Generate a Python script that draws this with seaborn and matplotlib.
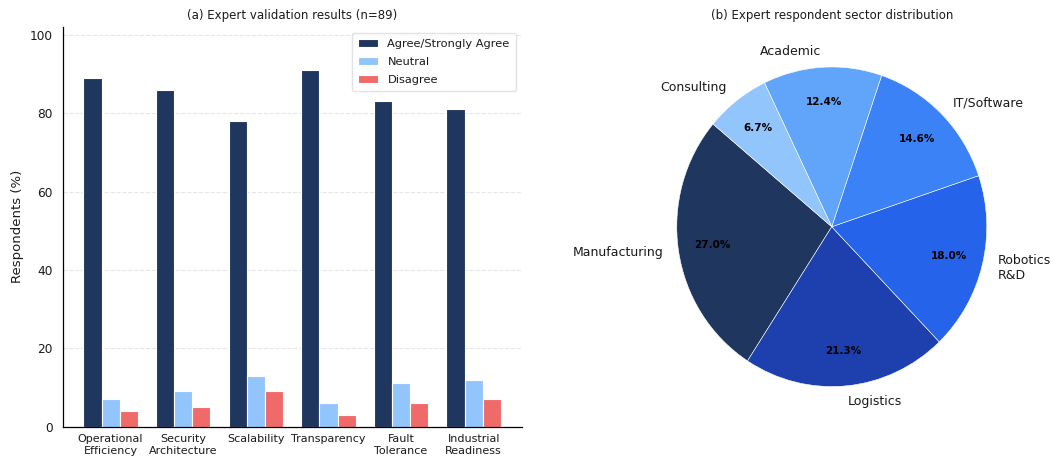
import numpy as np
import pandas as pd
import matplotlib
matplotlib.use("Agg")
import matplotlib.pyplot as plt
import seaborn as sns

# Expert validation survey (n=89)
criteria = ["Operational\nEfficiency", "Security\nArchitecture", "Scalability",
            "Transparency", "Fault\nTolerance", "Industrial\nReadiness"]
agree = [89, 86, 78, 91, 83, 81]
neutral = [7, 9, 13, 6, 11, 12]
disagree = [4, 5, 9, 3, 6, 7]
responses = ["Agree/Strongly Agree", "Neutral", "Disagree"]
response_colors = ["#1f365f", "#93c5fd", "#f16a6a"]

# Sector distribution of respondents
sectors = ["Manufacturing", "Logistics", "Robotics\nR&D", "IT/Software", "Academic", "Consulting"]
sector_counts = [24, 19, 16, 13, 11, 6]
sector_colors = ["#1f365f", "#1e40af", "#2563eb", "#3b82f6", "#60a5fa", "#93c5fd"]

sns.set_theme(style="white")
plt.rcParams["font.family"] = ["DejaVu Sans"]
plt.rcParams["text.color"] = "#1a1a1a"
plt.rcParams["axes.labelcolor"] = "#1a1a1a"
plt.rcParams["xtick.color"] = "#1a1a1a"
plt.rcParams["ytick.color"] = "#1a1a1a"

fig = plt.figure(figsize=(10.53, 4.61), dpi=100)
ax1 = fig.add_axes([0.0595, 0.0748, 0.4359, 0.8666])
ax2 = fig.add_axes([0.6059, 0.0748, 0.368, 0.8666])

df = pd.DataFrame({
    "criterion": np.repeat(criteria, 3),
    "response": responses * len(criteria),
    "pct": np.ravel(np.column_stack([agree, neutral, disagree])),
})

sns.barplot(data=df, x="criterion", y="pct", hue="response", hue_order=responses,
            palette=response_colors, width=0.75, edgecolor="white", linewidth=0.8,
            saturation=1, ax=ax1)
ax1.set_xlim(-0.66, len(criteria) - 1 + 0.66)
ax1.set_ylim(0, 102)
ax1.set_yticks([0, 20, 40, 60, 80, 100])
ax1.set_xlabel("")
ax1.set_ylabel("Respondents (%)", fontsize=9.5)
ax1.tick_params(axis="x", labelsize=8, length=3.5, width=0.8, color="black", pad=2)
ax1.tick_params(axis="y", labelsize=8.7, length=3.5, width=0.8, color="black")
for s in ["top", "right"]:
    ax1.spines[s].set_visible(False)
for s in ["left", "bottom"]:
    ax1.spines[s].set_color("black")
    ax1.spines[s].set_linewidth(0.9)
ax1.yaxis.grid(True, linestyle="--", color="#cccccc", alpha=0.5, linewidth=0.8)
ax1.set_axisbelow(True)
ax1.set_title("(a) Expert validation results (n=89)", fontsize=8.5, pad=6)
handles, labels = ax1.get_legend_handles_labels()
ax1.legend(handles, labels, loc="upper right", fontsize=8.2, frameon=True,
           fancybox=True, edgecolor="#dddddd", handlelength=1.8,
           labelspacing=0.7, borderpad=0.55)

wedges, texts, autotexts = ax2.pie(
    sector_counts, labels=sectors, colors=sector_colors, startangle=140,
    autopct="%1.1f%%", pctdistance=0.78, labeldistance=1.1,
    wedgeprops=dict(edgecolor="white", linewidth=0.4),
    textprops=dict(fontsize=9))
ax2.set_aspect("auto")
ax2.set_xlim(-1.25, 1.25)
ax2.set_ylim(-1.25, 1.25)
for t in autotexts:
    t.set_fontsize(7.5)
    t.set_fontweight("bold")
    t.set_color("black")
ax2.set_title("(b) Expert respondent sector distribution", fontsize=8.5, pad=6)

fig.savefig("out.png", dpi=100)
